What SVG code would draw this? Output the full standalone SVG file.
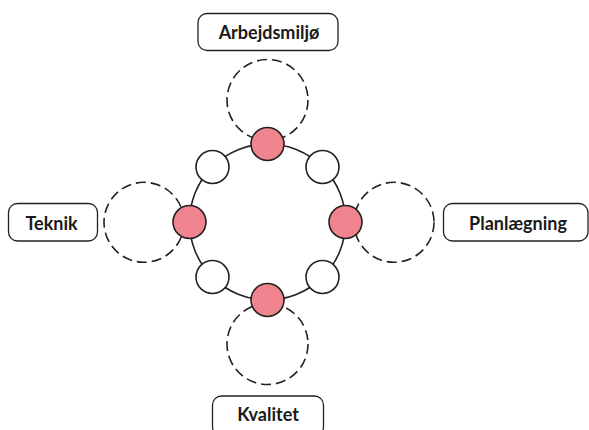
<svg xmlns="http://www.w3.org/2000/svg" width="589" height="430" viewBox="0 0 589 430">
  <style>
    .ring { fill: none; stroke: #222; stroke-width: 1.6; }
    .zone { fill: none; stroke: #222; stroke-width: 1.6; stroke-dasharray: 10 5; }
    .hub { fill: #F0848E; stroke: #222; stroke-width: 1.6; }
    .dot { fill: #fff; stroke: #222; stroke-width: 1.6; }
    .box { fill: #fff; stroke: #222; stroke-width: 1.3; }
    .lbl { font-family: Lato, "Liberation Sans", sans-serif; font-weight: bold; font-size: 18px; fill: #1a1a1a; text-anchor: middle; }
  </style>
  <rect width="589" height="430" fill="#fff"/>

  <!-- ring joining the hubs -->
  <g id="connectors">
    <circle class="ring" cx="267.5" cy="222" r="78"/>
  </g>

  <!-- dashed zones around each hub -->
  <g id="zones">
    <circle class="zone" cx="267.5" cy="100" r="40.5"/>
    <circle class="zone" cx="267.5" cy="344" r="40.5"/>
    <circle class="zone" cx="144" cy="222.3" r="40"/>
    <circle class="zone" cx="394" cy="222.3" r="40"/>
  </g>

  <g id="dots">
    <circle class="dot" cx="212.5" cy="167" r="16.5"/>
    <circle class="dot" cx="322.5" cy="167" r="16.5"/>
    <circle class="dot" cx="212.5" cy="277" r="16.5"/>
    <circle class="dot" cx="322.5" cy="277" r="16.5"/>
  </g>

  <g id="hub-top"><circle class="hub" cx="267.5" cy="144" r="16.5"/></g>
  <g id="hub-bottom"><circle class="hub" cx="267.5" cy="300" r="16.5"/></g>
  <g id="hub-left"><circle class="hub" cx="189.5" cy="222" r="16.5"/></g>
  <g id="hub-right"><circle class="hub" cx="345.5" cy="222" r="16.5"/></g>

  <g id="arbejdsmiljo">
    <rect class="box" x="198" y="13.5" width="140" height="37" rx="9"/>
    <text class="lbl" x="269" y="39">Arbejdsmiljø</text>
  </g>
  <g id="teknik">
    <rect class="box" x="8.5" y="203.5" width="89" height="37.5" rx="9"/>
    <text class="lbl" x="51.5" y="229.5">Teknik</text>
  </g>
  <g id="planlaegning">
    <rect class="box" x="443.5" y="203.5" width="144.5" height="37.5" rx="9"/>
    <text class="lbl" x="518" y="229.5">Planlægning</text>
  </g>
  <g id="kvalitet">
    <rect class="box" x="212.5" y="396" width="111" height="40" rx="9"/>
    <text class="lbl" x="268" y="421">Kvalitet</text>
  </g>
</svg>
